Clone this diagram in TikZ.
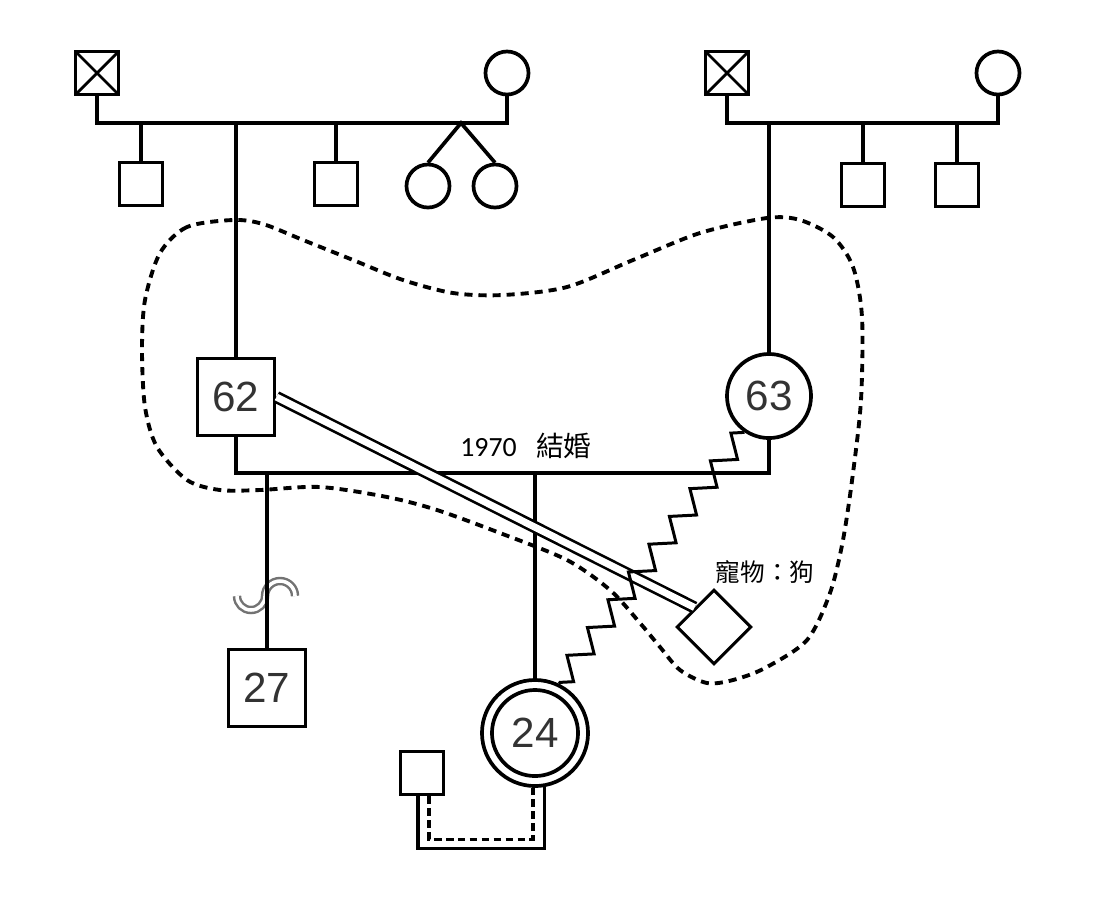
\documentclass[tikz,border=0pt]{standalone}
\usepackage{fontspec}
\setmainfont{Liberation Sans}
\newfontfamily\cjkfont{Noto Sans CJK TC}
\newfontfamily\yearfont{Carlito}
\usetikzlibrary{decorations.pathmorphing}

\begin{document}
\begin{tikzpicture}[x=0.01cm, y=-0.01cm, line width=1.05pt,
    male/.style={draw, rectangle, minimum size=0.43cm, inner sep=0pt},
    female/.style={draw, circle, minimum size=0.43cm, inner sep=0pt},
    dead/.style={male, path picture={
        \draw[line width=0.8pt] (path picture bounding box.north west) -- (path picture bounding box.south east)
            (path picture bounding box.north east) -- (path picture bounding box.south west);}},
    agemale/.style={draw, rectangle, minimum size=0.77cm, inner sep=0pt, text=black!80,
        font=\fontsize{12}{12}\selectfont},
    agefemale/.style={draw, circle, minimum size=0.84cm, inner sep=0pt, text=black!80,
        font=\fontsize{12}{12}\selectfont},
    pet/.style={draw, rectangle, minimum size=0.52cm, inner sep=0pt, rotate=45, line width=0.85pt},
    conflict/.style={decorate, line width=0.85pt,
        decoration={zigzag, segment length=0.345cm, amplitude=0.105cm, mirror}},
    bond/.style={double, double distance=2pt, line width=0.75pt},
    household/.style={line width=1.1pt, dash pattern=on 2.3pt off 1.7pt},
    cohabit/.style={dash pattern=on 2.2pt off 1.2pt},
    distant/.style={black!55, line width=0.7pt, double=white, double distance=1pt}]
            \useasboundingbox (0,0) rectangle (1094,914);

            % household boundary
            \draw[household] plot[smooth cycle] coordinates {
                (233,220) (187,227) (160,253) (145,300) (142,350) (145,407) (157,447) (187,480)
                (220,490) (260,490) (320,487) (387,497) (437,510) (500,533) (567,560) (610,590)
                (640,623) (660,647) (680,670) (707,683) (733,680) (765,668) (807,640) (830,593)
                (843,540) (853,473) (861,400) (862,317) (853,267) (833,237) (800,220) (767,218)
                (700,233) (633,260) (567,287) (503,295) (453,293) (403,280) (353,260) (303,240)
                (263,224)};

            % father's side
            \node[dead] (gpa1) at (97,73) {};
            \node[female] (gma1) at (507,73) {};
            \node[male] (unc1) at (141,184) {};
            \node[male] (unc2) at (336,184) {};
            \node[female] (twin1) at (428,186) {};
            \node[female] (twin2) at (495,186) {};
            \coordinate (mar1) at (300,123);
            \coordinate (twtop) at (461,123);
            \draw (gpa1.south) |- (mar1) -| (gma1.south);
            \draw (unc1.north) -- (unc1.north |- mar1);
            \draw (unc2.north) -- (unc2.north |- mar1);
            \draw (twin1.north) -- (twtop) -- (twin2.north);

            % mother's side
            \node[dead] (gpa2) at (727,73) {};
            \node[female] (gma2) at (998,73) {};
            \node[male] (unc3) at (863,185) {};
            \node[male] (unc4) at (957,185) {};
            \coordinate (mar2) at (860,123);
            \draw (gpa2.south) |- (mar2) -| (gma2.south);
            \draw (unc3.north) -- (unc3.north |- mar2);
            \draw (unc4.north) -- (unc4.north |- mar2);

            % parents
            \node[agemale] (dad) at (236,397) {62};
            \node[agefemale] (mom) at (769,396) {63};
            \draw (dad.north) -- (dad.north |- mar1);
            \draw (mom.north) -- (mom.north |- mar2);
            \coordinate (mar3) at (500,473);
            \draw (dad.south) |- (mar3) -| (mom.south);
            \node[font=\fontsize{7.9}{9}\selectfont] (wed) at (526,446) {\yearfont 1970\hspace{0.7em}\cjkfont 結婚};

            % children
            \node[agemale] (son) at (267,688) {27};
            \node[draw, circle, minimum size=1.06cm, inner sep=0pt, text=black!80,
                font=\fontsize{12}{12}\selectfont] (me) at (535,733) {24};
            \draw (me.center) circle[radius=0.43cm];
            \draw[distant] (237,596) arc[start angle=180, end angle=360, radius=0.14cm]
                arc[start angle=180, end angle=0, radius=0.15cm];
            \draw (son.north) -- (son.north |- mar3);
            \draw (me.north) -- (me.north |- mar3);

            % partner
            \node[male] (partner) at (422,773) {};
            \draw ([xshift=-0.04cm]partner.south) -- ++(0,52) -| (me.-80);
            \draw[cohabit] ([xshift=0.07cm]partner.south) -- ++(0,43) -| (me.-92);

            % pet
            \node[pet] (dog) at (714,627) {};
            \node[font=\fontsize{7}{8}\selectfont\cjkfont] (doglbl) at (765,572) {寵物：狗};
            \draw[bond] (dad.east) -- (dog.north);

            \draw[conflict] (mom.236) -- (me.64);
        \end{tikzpicture}
\end{document}
